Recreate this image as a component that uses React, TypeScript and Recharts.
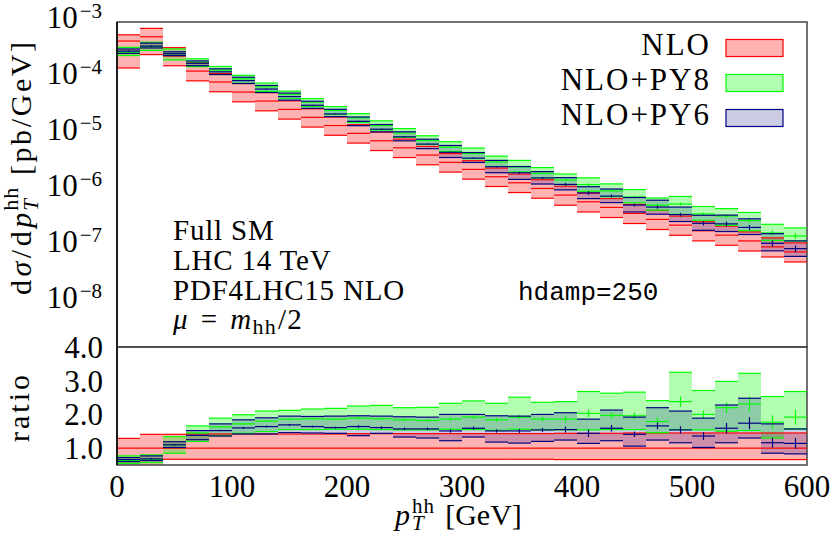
import React from 'react';
import { ComposedChart, XAxis, YAxis, ReferenceArea, ReferenceLine, Line } from 'recharts';

// ---------- data ----------
const binEdges = [0, 20, 40, 60, 80, 100, 120, 140, 160, 180, 200, 220, 240, 260, 280, 300, 320, 340, 360, 380, 400, 420, 440, 460, 480, 500, 520, 540, 560, 580, 600];

// NLO central value, dsigma/dpT [pb/GeV]
const nloCentral = [4.58e-4, 5.46e-4, 2.47e-4, 1.33e-4, 8.49e-5, 5.62e-5, 3.88e-5, 2.76e-5, 1.99e-5, 1.42e-5, 1.03e-5, 7.59e-6, 5.69e-6, 4.22e-6, 3.13e-6, 2.34e-6, 1.73e-6, 1.35e-6, 1.07e-6, 8.14e-7, 6.18e-7, 4.91e-7, 3.84e-7, 3.0e-7, 2.37e-7, 1.88e-7, 1.57e-7, 1.24e-7, 9.7e-8, 7.9e-8];

// ratios to NLO central
const nloRatioLo = [0.33, 0.48, 0.67, 0.67, 0.67, 0.67, 0.67, 0.67, 0.67, 0.67, 0.67, 0.67, 0.67, 0.67, 0.67, 0.67, 0.67, 0.67, 0.67, 0.66, 0.66, 0.66, 0.66, 0.66, 0.66, 0.66, 0.66, 0.66, 0.66, 0.66];
const nloRatioHi = [1.29, 1.41, 1.41, 1.42, 1.42, 1.42, 1.42, 1.42, 1.42, 1.42, 1.43, 1.43, 1.43, 1.43, 1.43, 1.43, 1.43, 1.43, 1.43, 1.44, 1.44, 1.44, 1.45, 1.45, 1.45, 1.45, 1.45, 1.45, 1.45, 1.45];

const py8RatioLo = [0.55, 0.57, 0.85, 1.2, 1.36, 1.44, 1.49, 1.55, 1.55, 1.56, 1.56, 1.55, 1.54, 1.54, 1.56, 1.55, 1.53, 1.56, 1.54, 1.54, 1.54, 1.55, 1.55, 1.46, 1.55, 1.54, 1.5, 1.52, 1.3, 1.56];
const py8RatioC = [0.63, 0.66, 1.1, 1.45, 1.63, 1.72, 1.8, 1.86, 1.87, 1.86, 1.89, 1.87, 1.84, 1.82, 1.86, 1.92, 1.84, 1.92, 1.86, 1.86, 2.03, 1.97, 1.96, 1.79, 2.38, 2.0, 2.2, 2.31, 1.77, 1.92];
const py8RatioHi = [0.77, 0.8, 1.34, 1.66, 1.89, 1.99, 2.1, 2.12, 2.16, 2.18, 2.25, 2.27, 2.2, 2.21, 2.33, 2.4, 2.33, 2.51, 2.36, 2.38, 2.68, 2.63, 2.66, 2.41, 3.25, 2.71, 2.98, 3.22, 2.53, 2.68];
const py8RatioErr = [0.02, 0.02, 0.02, 0.02, 0.02, 0.03, 0.03, 0.03, 0.03, 0.03, 0.04, 0.04, 0.04, 0.04, 0.05, 0.05, 0.06, 0.06, 0.07, 0.1, 0.11, 0.1, 0.1, 0.12, 0.15, 0.12, 0.16, 0.22, 0.2, 0.22];

const py6RatioLo = [0.6, 0.63, 1.02, 1.25, 1.36, 1.42, 1.42, 1.46, 1.45, 1.44, 1.37, 1.44, 1.33, 1.3, 1.22, 1.33, 1.18, 1.15, 1.2, 1.24, 1.14, 1.22, 1.06, 1.24, 1.16, 1.02, 1.16, 1.3, 0.85, 0.83];
const py6RatioC = [0.66, 0.68, 1.1, 1.38, 1.52, 1.6, 1.64, 1.69, 1.64, 1.61, 1.64, 1.61, 1.57, 1.57, 1.51, 1.59, 1.51, 1.51, 1.54, 1.55, 1.44, 1.59, 1.41, 1.66, 1.54, 1.36, 1.59, 1.74, 1.16, 1.14];
const py6RatioHi = [0.72, 0.77, 1.19, 1.52, 1.72, 1.84, 1.9, 1.95, 1.94, 1.95, 1.96, 1.95, 1.93, 1.92, 2.0, 2.0, 1.96, 1.95, 2.0, 2.05, 1.86, 2.13, 1.92, 2.2, 2.1, 1.89, 2.28, 2.48, 1.72, 1.57];
const py6RatioErr = [0.02, 0.02, 0.02, 0.02, 0.02, 0.03, 0.03, 0.03, 0.03, 0.03, 0.04, 0.04, 0.04, 0.04, 0.05, 0.05, 0.05, 0.06, 0.06, 0.09, 0.11, 0.1, 0.08, 0.1, 0.11, 0.12, 0.16, 0.18, 0.15, 0.16];

// ticks / labels
const xTicks = [0, 100, 200, 300, 400, 500, 600];
const xInnerTicks = [100, 200, 300, 400, 500];
const topTicks = [1e-8, 1e-7, 1e-6, 1e-5, 1e-4, 1e-3];
const topTickExp = ['\u22128', '\u22127', '\u22126', '\u22125', '\u22124', '\u22123'];
const ratioTicks = [1, 2, 3, 4];
const ratioTickLabels = ['1.0', '2.0', '3.0', '4.0'];
const infoLines = ['Full SM', 'LHC 14 TeV', 'PDF4LHC15 NLO'];
const legendNames = ['NLO', 'NLO+PY8', 'NLO+PY6'];
const hdampLabel = 'hdamp=250';

// ---------- layout / style ----------
const FONT = '"Liberation Serif", "Times New Roman", serif';
const MONO = '"Liberation Mono", "DejaVu Sans Mono", monospace';
const TOP_DOMAIN: [number, number] = [Math.pow(10, -8.8), 1e-3];
const RATIO_DOMAIN: [number, number] = [0.5, 4.0];

const topMinor: number[] = [];
for (let e = -9; e <= -4; e++) {
  for (let k = 2; k <= 9; k++) {
    const v = k * Math.pow(10, e);
    if (v > TOP_DOMAIN[0] && v < TOP_DOMAIN[1]) topMinor.push(v);
  }
}
const ratioMinor: number[] = [];
for (let i = 6; i < 40; i++) {
  if (i % 10 !== 0) ratioMinor.push(i / 10);
}

type BandSpec = {
  id: string;
  fill: string;
  fillOpacity: number;
  line: string;
  lo: number[];
  c: number[];
  hi: number[];
  err: number[] | null;
};

const RED = '#ff0000';
const GREEN = '#00ff00';
const NAVY = '#000080';

const nloRatioC = nloCentral.map(() => 1);

const ratioBands: BandSpec[] = [
  { id: 'nlo', fill: RED, fillOpacity: 0.3, line: RED, lo: nloRatioLo, c: nloRatioC, hi: nloRatioHi, err: null },
  { id: 'py8', fill: GREEN, fillOpacity: 0.3, line: GREEN, lo: py8RatioLo, c: py8RatioC, hi: py8RatioHi, err: py8RatioErr },
  { id: 'py6', fill: NAVY, fillOpacity: 0.2, line: NAVY, lo: py6RatioLo, c: py6RatioC, hi: py6RatioHi, err: py6RatioErr },
];

const scaleBy = (arr: number[]) => arr.map((r, i) => r * nloCentral[i]);
const topBands: BandSpec[] = ratioBands.map((b) => ({
  ...b,
  lo: scaleBy(b.lo),
  c: scaleBy(b.c),
  hi: scaleBy(b.hi),
  err: b.err ? scaleBy(b.err) : null,
}));

const rows = nloCentral.map((c, i) => ({ xc: (binEdges[i] + binEdges[i + 1]) / 2, nlo: c, ratio: 1 }));

function bandElements(bands: BandSpec[], yAxisId: string, prefix: string) {
  const out: React.ReactElement[] = [];
  bands.forEach((b) => {
    b.lo.forEach((lo, i) => {
      out.push(
        <ReferenceArea
          key={`${prefix}-${b.id}-a${i}`}
          xAxisId="x"
          yAxisId={yAxisId}
          x1={binEdges[i]}
          x2={binEdges[i + 1]}
          y1={lo}
          y2={b.hi[i]}
          fill={b.fill}
          fillOpacity={b.fillOpacity}
          stroke="none"
          ifOverflow="hidden"
        />
      );
    });
    b.lo.forEach((lo, i) => {
      const x0 = binEdges[i];
      const x1 = binEdges[i + 1];
      const vals = [lo, b.c[i], b.hi[i]];
      vals.forEach((v, j) => {
        out.push(
          <ReferenceLine
            key={`${prefix}-${b.id}-l${i}-${j}`}
            xAxisId="x"
            yAxisId={yAxisId}
            segment={[{ x: x0, y: v }, { x: x1, y: v }]}
            stroke={b.line}
            strokeWidth={1.2}
            ifOverflow="hidden"
          />
        );
      });
      if (b.err) {
        const xc = (x0 + x1) / 2;
        out.push(
          <ReferenceLine
            key={`${prefix}-${b.id}-e${i}`}
            xAxisId="x"
            yAxisId={yAxisId}
            segment={[{ x: xc, y: b.c[i] - b.err[i] }, { x: xc, y: b.c[i] + b.err[i] }]}
            stroke={b.line}
            strokeWidth={1.2}
            ifOverflow="hidden"
          />
        );
      }
    });
  });
  return out;
}

const PowTick = (props: any) => {
  const { x, y, payload } = props;
  const idx = topTicks.findIndex((t) => Math.abs(t - payload.value) / t < 1e-6);
  const exp = idx >= 0 ? topTickExp[idx] : '';
  return (
    <text x={x} y={y + 6} textAnchor="end" fontFamily={FONT} fontSize={31} fill="#000">
      10
      <tspan fontSize={21} dx={2} dy={-10}>
        {exp}
      </tspan>
    </text>
  );
};

const FRAME = '#444';

function TopPanel() {
  return (
    <ComposedChart width={830} height={358} data={rows} margin={{ top: 32, right: 23, bottom: 1, left: 17 }}>
      <XAxis xAxisId="x" dataKey="xc" type="number" domain={[0, 600]} allowDataOverflow ticks={xInnerTicks} interval={0} mirror orientation="bottom" tick={false} tickSize={8} axisLine={false} tickLine={{ stroke: '#000', strokeWidth: 1.2 }} />
      <YAxis yAxisId="main" scale="log" type="number" domain={TOP_DOMAIN} allowDataOverflow ticks={topTicks} interval={0} width={100} tick={<PowTick />} tickLine={false} tickSize={5} tickMargin={10} axisLine={{ stroke: '#000', strokeWidth: 1.5 }} />
      <YAxis yAxisId="lmaj" scale="log" type="number" domain={TOP_DOMAIN} allowDataOverflow ticks={topTicks} interval={0} mirror orientation="left" tick={false} tickSize={8} axisLine={false} tickLine={{ stroke: '#000', strokeWidth: 1.2 }} />
      <YAxis yAxisId="lmin" scale="log" type="number" domain={TOP_DOMAIN} allowDataOverflow ticks={topMinor} interval={0} mirror orientation="left" tick={false} tickSize={4} axisLine={false} tickLine={{ stroke: '#000', strokeWidth: 1 }} />
      <YAxis yAxisId="rmaj" scale="log" type="number" domain={TOP_DOMAIN} allowDataOverflow ticks={topTicks} interval={0} mirror orientation="right" tick={false} tickSize={8} axisLine={false} tickLine={{ stroke: '#000', strokeWidth: 1.2 }} />
      <YAxis yAxisId="rmin" scale="log" type="number" domain={TOP_DOMAIN} allowDataOverflow ticks={topMinor} interval={0} mirror orientation="right" tick={false} tickSize={4} axisLine={false} tickLine={{ stroke: '#000', strokeWidth: 1 }} />
      {bandElements(topBands, 'main', 'top')}
      <Line xAxisId="x" yAxisId="main" dataKey="nlo" stroke="none" dot={false} activeDot={false} isAnimationActive={false} legendType="none" />
      <ReferenceArea xAxisId="x" yAxisId="main" x1={0} x2={600} y1={TOP_DOMAIN[0]} y2={TOP_DOMAIN[1]} fill="none" stroke={FRAME} strokeWidth={1.5} ifOverflow="visible" />
    </ComposedChart>
  );
}

function RatioPanel() {
  return (
    <ComposedChart width={830} height={210} data={rows} margin={{ top: 20, right: 23, bottom: 0, left: 17 }}>
      <XAxis xAxisId="x" dataKey="xc" type="number" domain={[0, 600]} allowDataOverflow ticks={xTicks} interval={0} height={72} tickLine={false} tickSize={6} tickMargin={4} axisLine={false} tick={{ fontSize: 31, fontFamily: FONT, fill: '#000' }} />
      <XAxis xAxisId="xb" dataKey="xc" type="number" domain={[0, 600]} allowDataOverflow ticks={xInnerTicks} interval={0} mirror orientation="bottom" tick={false} tickSize={8} axisLine={false} tickLine={{ stroke: '#000', strokeWidth: 1.2 }} />
      <XAxis xAxisId="xt" dataKey="xc" type="number" domain={[0, 600]} allowDataOverflow ticks={xInnerTicks} interval={0} mirror orientation="top" tick={false} tickSize={8} axisLine={false} tickLine={{ stroke: '#000', strokeWidth: 1.2 }} />
      <YAxis yAxisId="main" type="number" domain={RATIO_DOMAIN} allowDataOverflow ticks={ratioTicks} interval={0} width={100} tickLine={false} tickSize={4} tickMargin={10} axisLine={{ stroke: '#000', strokeWidth: 1.5 }} tick={{ fontSize: 31, fontFamily: FONT, fill: '#000' }} tickFormatter={(v: number) => ratioTickLabels[ratioTicks.indexOf(v)] ?? String(v)} />
      <YAxis yAxisId="lmaj" type="number" domain={RATIO_DOMAIN} allowDataOverflow ticks={ratioTicks} interval={0} mirror orientation="left" tick={false} tickSize={8} axisLine={false} tickLine={{ stroke: '#000', strokeWidth: 1.2 }} />
      <YAxis yAxisId="lmin" type="number" domain={RATIO_DOMAIN} allowDataOverflow ticks={ratioMinor} interval={0} mirror orientation="left" tick={false} tickSize={4} axisLine={false} tickLine={{ stroke: '#000', strokeWidth: 1 }} />
      <YAxis yAxisId="rmaj" type="number" domain={RATIO_DOMAIN} allowDataOverflow ticks={ratioTicks} interval={0} mirror orientation="right" tick={false} tickSize={8} axisLine={false} tickLine={{ stroke: '#000', strokeWidth: 1.2 }} />
      <YAxis yAxisId="rmin" type="number" domain={RATIO_DOMAIN} allowDataOverflow ticks={ratioMinor} interval={0} mirror orientation="right" tick={false} tickSize={4} axisLine={false} tickLine={{ stroke: '#000', strokeWidth: 1 }} />
      {bandElements(ratioBands, 'main', 'rat')}
      <Line xAxisId="x" yAxisId="main" dataKey="ratio" stroke="none" dot={false} activeDot={false} isAnimationActive={false} legendType="none" />
      <ReferenceArea xAxisId="x" yAxisId="main" x1={0} x2={600} y1={RATIO_DOMAIN[0]} y2={RATIO_DOMAIN[1]} fill="none" stroke={FRAME} strokeWidth={1.5} ifOverflow="visible" />
    </ComposedChart>
  );
}

const legendFill = [
  { fill: RED, op: 0.3, stroke: RED },
  { fill: GREEN, op: 0.3, stroke: GREEN },
  { fill: NAVY, op: 0.2, stroke: NAVY },
];

function Overlay() {
  return (
    <svg width={830} height={537} style={{ position: 'absolute', left: 0, top: 0, pointerEvents: 'none' }}>
      {/* y-axis title, top panel */}
      <text transform="translate(31,295) rotate(-90)" textAnchor="start" fontFamily={FONT} fontSize={30} fill="#000">
        <tspan letterSpacing={3.5}>d</tspan>
        <tspan letterSpacing={3.5} fontStyle="italic">σ</tspan>
        <tspan letterSpacing={3.5}>/d</tspan>
        <tspan fontStyle="italic">p</tspan>
        <tspan fontSize={22} letterSpacing={1} dx={2} dy={-13}>hh</tspan>
        <tspan fontSize={21} fontStyle="italic" dx={-24} dy={20}>T</tspan>
        <tspan letterSpacing={2.6} dx={14} dy={-7}>{' [pb/GeV]'}</tspan>
      </text>
      {/* ratio title */}
      <text transform="translate(29,407) rotate(-90)" textAnchor="middle" fontFamily={FONT} fontSize={30} letterSpacing={3} fill="#000">
        ratio
      </text>
      {/* x-axis title */}
      <text x={395} y={525} fontFamily={FONT} fontSize={30} fill="#000">
        <tspan fontStyle="italic">p</tspan>
        <tspan fontSize={21} letterSpacing={1} dx={2} dy={-12}>hh</tspan>
        <tspan fontSize={21} fontStyle="italic" dx={-23} dy={17}>T</tspan>
        <tspan dx={14} dy={-5}>{' [GeV]'}</tspan>
      </text>
      {/* info block */}
      {infoLines.map((t, i) => (
        <text key={t} x={173} y={240 + 30 * i} fontFamily={FONT} fontSize={29} letterSpacing={0.8} fill="#000">
          {t}
        </text>
      ))}
      <text x={173} y={329} fontFamily={FONT} fontSize={29} letterSpacing={1.2} fill="#000">
        <tspan fontStyle="italic">μ</tspan>
        <tspan dx={12}>=</tspan>
        <tspan dx={12} fontStyle="italic">m</tspan>
        <tspan fontSize={22} dy={5}>hh</tspan>
        <tspan dx={1} dy={-5}>/2</tspan>
      </text>
      <text x={518} y={300} fontFamily={MONO} fontSize={26} fill="#000">
        {hdampLabel}
      </text>
      {/* legend */}
      {legendNames.map((n, i) => (
        <g key={n}>
          <text x={711} y={55 + 35 * i} textAnchor="end" fontFamily={FONT} fontSize={31} letterSpacing={2} fill="#000">
            {n}
          </text>
          <rect x={726} y={39.5 + 35 * i} width={57} height={17} fill={legendFill[i].fill} fillOpacity={legendFill[i].op} stroke={legendFill[i].stroke} strokeWidth={1.2} />
        </g>
      ))}
    </svg>
  );
}

export default function App() {
  return (
    <div style={{ position: 'absolute', left: 0, top: 0, width: 830, height: 537, background: '#fff', fontFamily: FONT, overflow: 'hidden' }}>
      <div style={{ position: 'absolute', left: 0, top: -10 }}>
        <TopPanel />
      </div>
      <div style={{ position: 'absolute', left: 0, top: 327 }}>
        <RatioPanel />
      </div>
      <Overlay />
    </div>
  );
}
